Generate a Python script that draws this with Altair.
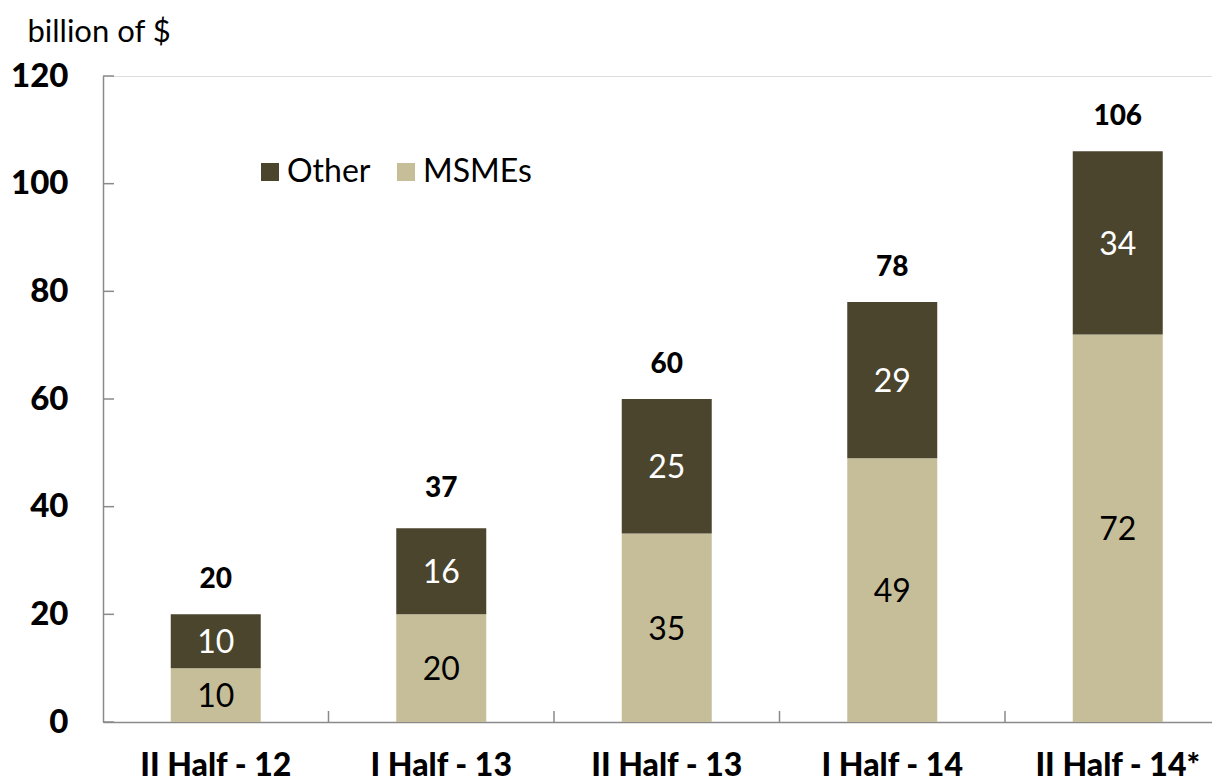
import altair as alt
import pandas as pd

categories = ["II Half - 12", "I Half - 13", "II Half - 13", "I Half - 14", "II Half - 14*"]
msmes = [10, 20, 35, 49, 72]
other = [10, 16, 25, 29, 34]
totals = [20, 37, 60, 78, 106]
y_ticks = [0, 20, 40, 60, 80, 100, 120]
series_names = ["Other", "MSMEs"]
series_colors = ["#4b452e", "#c6be98"]

rows = []
for c, m, o in zip(categories, msmes, other):
    rows.append({"cat": c, "series": "MSMEs", "value": m, "ord": 0})
    rows.append({"cat": c, "series": "Other", "value": o, "ord": 1})
df = pd.DataFrame(rows)
df_tot = pd.DataFrame({"cat": categories, "total": totals})
df_yt = pd.DataFrame({"t": y_ticks})
df_xt = pd.DataFrame({"cat": categories[1:]})

FONT = "Lato"
AX = "#8a8a8a"

xscale = alt.Scale(domain=categories, range=[0, 1127.5], paddingInner=0, paddingOuter=0)
yscale = alt.Scale(domain=[0, 120], nice=False)

x_enc = alt.X("cat:N", sort=categories, scale=xscale,
              axis=alt.Axis(title=None, labelFont=FONT, labelFontSize=32, labelFontWeight=900,
                            labelColor="black", labelAngle=0, tickSize=0, labelPadding=28,
                            labelBaseline="top", domainColor=AX, domainWidth=1.5))

bars = alt.Chart(df).mark_bar(size=90).encode(
    x=x_enc,
    y=alt.Y("value:Q", stack="zero", scale=yscale,
            axis=alt.Axis(title="billion of $", titleAngle=0, titleX=-76, titleY=-35,
                          titleAlign="left", titleBaseline="alphabetic", titleFont=FONT,
                          titleFontSize=31, titleFontWeight="normal", titleColor="black",
                          values=y_ticks, labelFont=FONT, labelFontSize=33, labelFontWeight=900,
                          labelColor="black", tickSize=0, labelPadding=35, grid=False,
                          domainColor=AX, domainWidth=1.5)),
    color=alt.Color("series:N", scale=alt.Scale(domain=series_names, range=series_colors),
                    legend=alt.Legend(title=None, orient="none", legendX=151, legendY=80,
                                      direction="horizontal", symbolType="square", symbolSize=324,
                                      symbolStrokeWidth=0, labelFont=FONT, labelFontSize=32,
                                      labelColor="black", labelOffset=1, columnPadding=19)),
    order=alt.Order("ord:Q"),
)

stacked = alt.Chart(df).transform_stack(
    stack="value", groupby=["cat"], as_=["v0", "v1"], sort=[alt.SortField("ord")]
).transform_calculate(mid="(datum.v0 + datum.v1) / 2")

lab_other = stacked.transform_filter("datum.series == 'Other'").mark_text(
    font=FONT, fontSize=32, color="white", baseline="middle", dy=2).encode(
    x=alt.X("cat:N", sort=categories, scale=xscale), y=alt.Y("mid:Q", scale=yscale),
    text=alt.Text("value:Q"))
lab_msme = stacked.transform_filter("datum.series == 'MSMEs'").mark_text(
    font=FONT, fontSize=32, color="black", baseline="middle", dy=2).encode(
    x=alt.X("cat:N", sort=categories, scale=xscale), y=alt.Y("mid:Q", scale=yscale),
    text=alt.Text("value:Q"))

tot = alt.Chart(df_tot).mark_text(font=FONT, fontSize=28, fontWeight=900, color="black",
                                  baseline="middle", dy=-34).encode(
    x=alt.X("cat:N", sort=categories, scale=xscale), y=alt.Y("total:Q", scale=yscale),
    text=alt.Text("total:Q"))

yt = alt.Chart(df_yt).mark_rule(color=AX, strokeWidth=1.5).encode(
    y=alt.Y("t:Q", scale=yscale), x=alt.value(0), x2=alt.value(11))
xt = alt.Chart(df_xt).mark_rule(color=AX, strokeWidth=1.5).encode(
    x=alt.X("cat:N", sort=categories, scale=xscale, bandPosition=0),
    y=alt.value(646), y2=alt.value(635))

chart = alt.layer(bars, lab_other, lab_msme, tot, yt, xt).properties(
    width=1109, height=646,
    padding={"left": 95, "top": 68, "right": 0, "bottom": 60},
    autosize=alt.AutoSizeParams(type="none"),
).configure_view(stroke=None).configure(background="white")

chart.save("out.html", embed_options={"renderer": "svg", "actions": False})
